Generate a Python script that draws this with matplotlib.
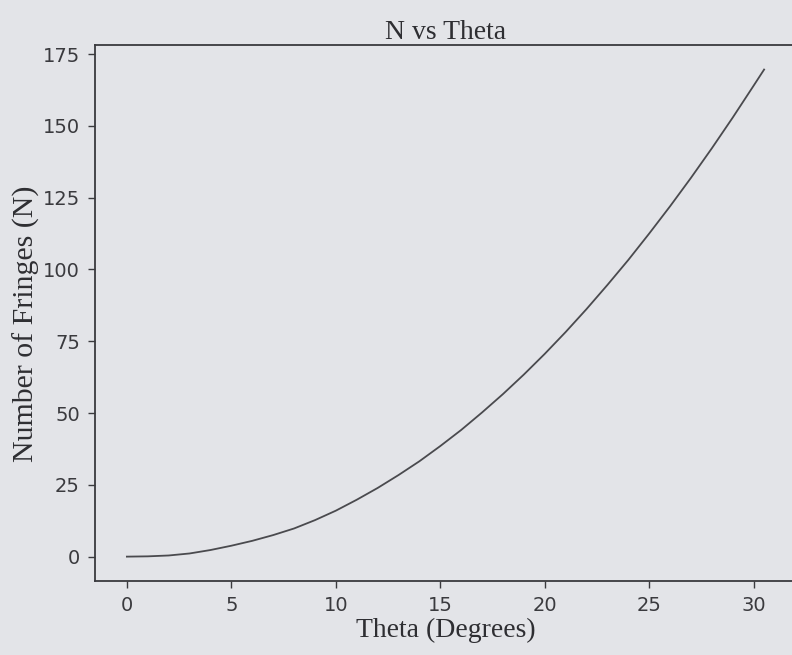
import matplotlib
matplotlib.use("Agg")
import matplotlib.pyplot as plt

theta_deg = [0, 1, 2, 3, 4, 5, 6, 7, 8, 9, 10, 11, 12, 13, 14, 15, 16, 17, 18, 19,
             20, 21, 22, 23, 24, 25, 26, 27, 28, 29, 30, 30.5]
n_fringes = [0.0, 0.1, 0.4, 1.1, 2.3, 3.8, 5.5, 7.5, 9.8, 12.7, 16.0, 19.8, 23.9, 28.4,
             33.2, 38.5, 44.1, 50.2, 56.6, 63.4, 70.6, 78.2, 86.2, 94.6, 103.3, 112.5,
             122.0, 131.9, 142.2, 152.9, 164.0, 169.6]
x_ticks = [0, 5, 10, 15, 20, 25, 30]
y_ticks = [0, 25, 50, 75, 100, 125, 150, 175]

bg = "#e3e4e8"
fig = plt.figure(figsize=(7.92, 6.55), dpi=100, facecolor=bg)
ax = fig.add_axes([0.12, 0.113, 0.885, 0.818])
ax.set_facecolor(bg)

ax.plot(theta_deg, n_fringes, color="#4a4a4e", linewidth=1.3)

ax.set_xticks(x_ticks)
ax.set_yticks(y_ticks)
ax.tick_params(axis="both", direction="out", length=5, width=1, colors="#3a3a3e",
               labelsize=14, pad=6)
for lab in ax.get_xticklabels() + ax.get_yticklabels():
    lab.set_family("DejaVu Sans")

for s in ax.spines.values():
    s.set_color("#3a3a3e")
    s.set_linewidth(1.3)

serif = ["Liberation Serif", "DejaVu Serif"]
ax.set_title("N vs Theta", family=serif, fontsize=20, color="#2e2e32", pad=4)
ax.set_xlabel("Theta (Degrees)", family=serif, fontsize=20, color="#2e2e32", labelpad=2)
ax.set_ylabel("Number of Fringes (N)", family=serif, fontsize=21.5, color="#2e2e32")
ax.yaxis.set_label_coords(-0.079, 0.48)

fig.savefig("out.png", dpi=100, facecolor=bg)
